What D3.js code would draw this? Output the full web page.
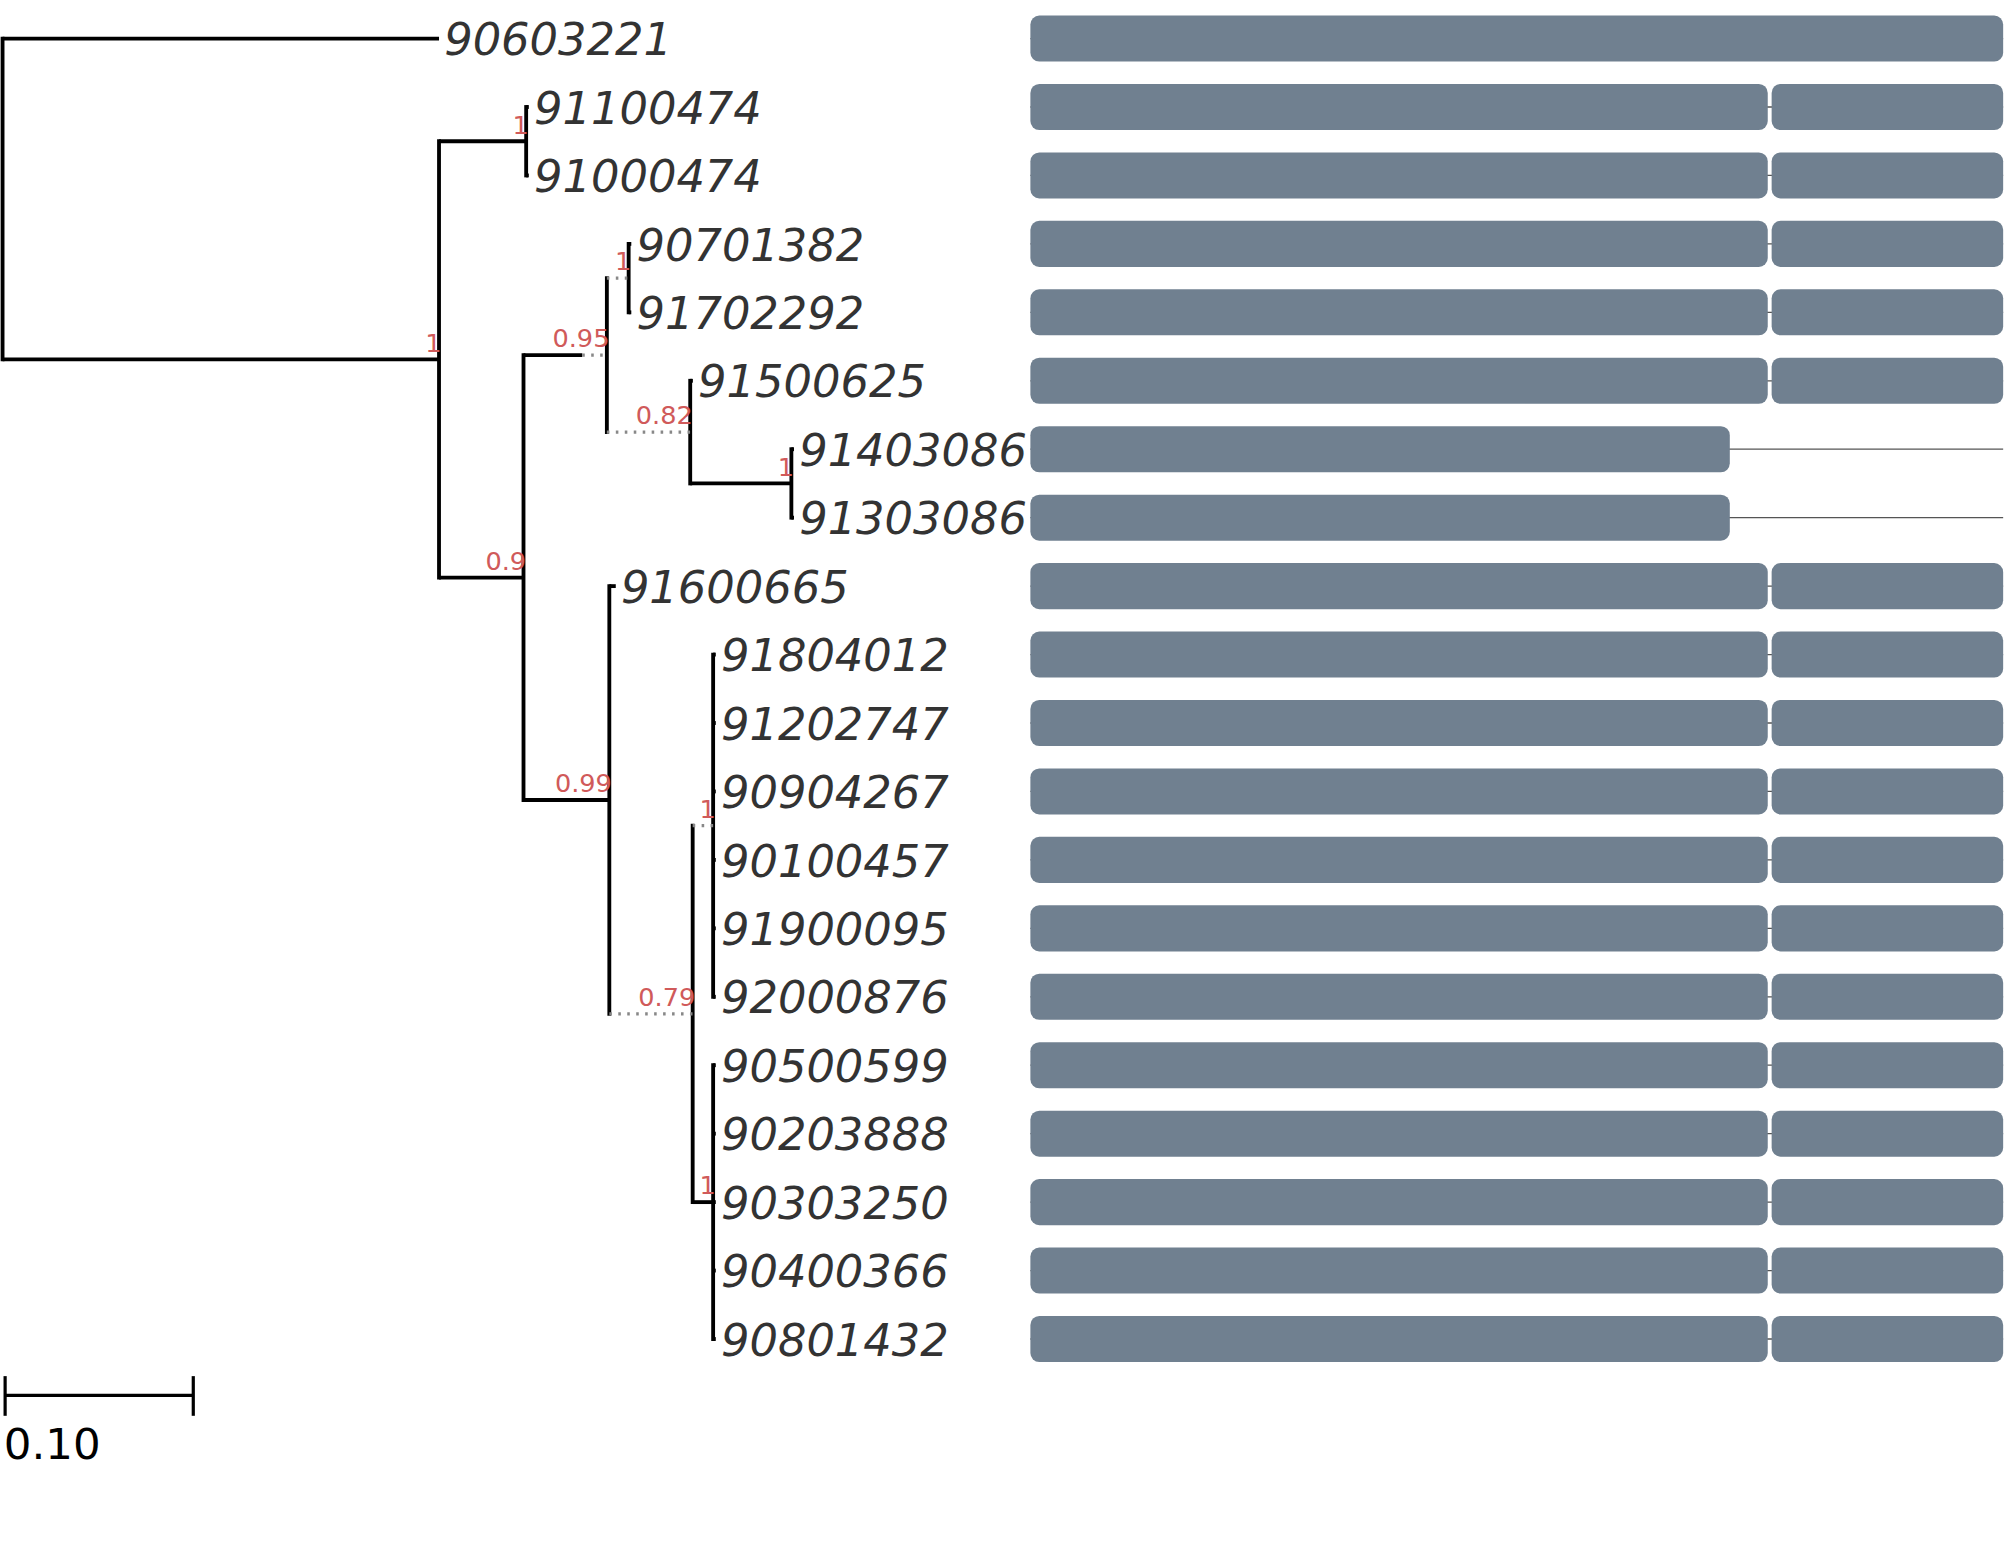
<!DOCTYPE html>
<html><head><meta charset="utf-8">
<script src="https://cdn.jsdelivr.net/npm/d3@7"></script>
<style>body{margin:0;background:#fff}</style>
</head><body>
<svg id="chart" width="2007" height="1567" viewBox="0 0 1568 1224"></svg>
<script>
// tree nodes: id, parent, solid length, dotted length, support
var nodeIds    = ["root","90603221","A","B","91100474","91000474","C","D","F","90701382","91702292","G","91500625","H","91403086","91303086","E","91600665","I","J","91804012","91202747","90904267","90100457","91900095","92000876","K","90500599","90203888","90303250","90400366","90801432"];
var nodeParent = [null,"root","root","A","B","B","A","C","D","F","F","D","G","G","H","H","C","E","E","I","J","J","J","J","J","J","I","K","K","K","K","K"];
var lenSolid   = [0,0.2304,0.2304,0.046,0.0014,0.0014,0.0446,0.031,0,0.0014,0.0014,0,0.0014,0.0534,0.0014,0.0014,0.0453,0.0034,0,0,0.0014,0.0014,0.0014,0.0014,0.0014,0.0014,0.0108,0.0014,0.0014,0.0014,0.0014,0.0014];
var lenDotted  = [0,0,0,0,0,0,0,0.013,0.0115,0,0,0.044,0,0,0,0,0,0,0.044,0.0108,0,0,0,0,0,0,0,0,0,0,0,0];
var support    = [null,null,"1","1",null,null,"0.9","0.95","1",null,null,"0.82",null,"1",null,null,"0.99",null,"0.79","1",null,null,null,null,null,null,"1",null,null,null,null,null];

// domain architecture per leaf (leaf order top to bottom)
var leafNames = ["90603221","91100474","91000474","90701382","91702292","91500625","91403086","91303086","91600665","91804012","91202747","90904267","90100457","91900095","92000876","90500599","90203888","90303250","90400366","90801432"];
var protLen = 1000;
var twoDom = [[0,758],[762,1000]];
var domains = [[[0,1000]],twoDom,twoDom,twoDom,twoDom,twoDom,[[0,719]],[[0,719]],twoDom,twoDom,twoDom,twoDom,twoDom,twoDom,twoDom,twoDom,twoDom,twoDom,twoDom,twoDom];
var scaleBarValue = 0.10;

var svg = d3.select("#chart");
var x = d3.scaleLinear().domain([0, 0.1]).range([2, 150]);
var y = d3.scalePoint().domain(leafNames).range([30, 1046]);
var xd = d3.scaleLinear().domain([0, protLen]).range([805, 1565]);

var table = nodeIds.map(function(id,i){return {id:id,parent:nodeParent[i],solid:lenSolid[i],dot:lenDotted[i],sup:support[i]};});
var root = d3.stratify().id(function(d){return d.id;}).parentId(function(d){return d.parent;})(table);
root.eachBefore(function(n){
  n.depthLen = n.parent ? n.parent.depthLen + n.data.solid + n.data.dot : 0;
});
root.eachAfter(function(n){
  n.yy = n.children ? d3.mean([n.children[0].yy, n.children[n.children.length-1].yy]) : y(n.id);
});
// sort-independent: vertical span from first to last child
var g = svg.append("g");
root.descendants().forEach(function(n){
  if (n.children) {
    var ys = n.children.map(function(c){return c.yy;});
    g.append("line").attr("x1",x(n.depthLen)).attr("x2",x(n.depthLen))
      .attr("y1",d3.min(ys)-1.5).attr("y2",d3.max(ys)+1.5)
      .attr("stroke","#000").attr("stroke-width",3);
  }
  if (n.parent) {
    var x0 = x(n.parent.depthLen), x1 = x(n.parent.depthLen + n.data.solid), x2 = x(n.depthLen);
    if (n.data.solid > 0)
      g.append("line").attr("x1",x0).attr("x2",x1).attr("y1",n.yy).attr("y2",n.yy)
        .attr("stroke","#000").attr("stroke-width",3);
    if (n.data.dot > 0)
      g.append("line").attr("x1",x1).attr("x2",x2).attr("y1",n.yy).attr("y2",n.yy)
        .attr("stroke","#888").attr("stroke-width",2.5).attr("stroke-dasharray","2,5");
    if (n.data.sup)
      g.append("text").attr("x",x2+2).attr("y",n.yy-6).attr("text-anchor","end")
        .attr("font-family","DejaVu Sans").attr("font-size",20).attr("fill","#d05a5a")
        .text(n.data.sup);
  }
});
root.leaves().forEach(function(n){
  g.append("text").attr("x",x(n.depthLen)+4).attr("y",n.yy+13)
    .attr("font-family","DejaVu Sans").attr("font-style","italic").attr("font-size",35)
    .attr("fill","#333").attr("textLength",null).text(n.id);
});

// domains
leafNames.forEach(function(name,i){
  var yy = y(name);
  svg.append("line").attr("x1",xd(0)).attr("x2",xd(protLen)).attr("y1",yy).attr("y2",yy)
    .attr("stroke","#555").attr("stroke-width",1);
  domains[i].forEach(function(dm){
    svg.append("rect").attr("x",xd(dm[0])).attr("width",xd(dm[1])-xd(dm[0]))
      .attr("y",yy-18).attr("height",36).attr("rx",7)
      .attr("fill","#708090");
  });
});

// scale bar
var sb = svg.append("g");
sb.append("line").attr("x1",x(0)+2).attr("x2",x(scaleBarValue)+1).attr("y1",1090).attr("y2",1090).attr("stroke","#000").attr("stroke-width",2.5);
[x(0)+2, x(scaleBarValue)+1].forEach(function(px){
  sb.append("line").attr("x1",px).attr("x2",px).attr("y1",1075).attr("y2",1106).attr("stroke","#000").attr("stroke-width",2.5);
});
sb.append("text").attr("x",3).attr("y",1140).attr("font-family","DejaVu Sans").attr("font-size",34).attr("fill","#000").text(scaleBarValue.toFixed(2));
</script>
</body></html>
